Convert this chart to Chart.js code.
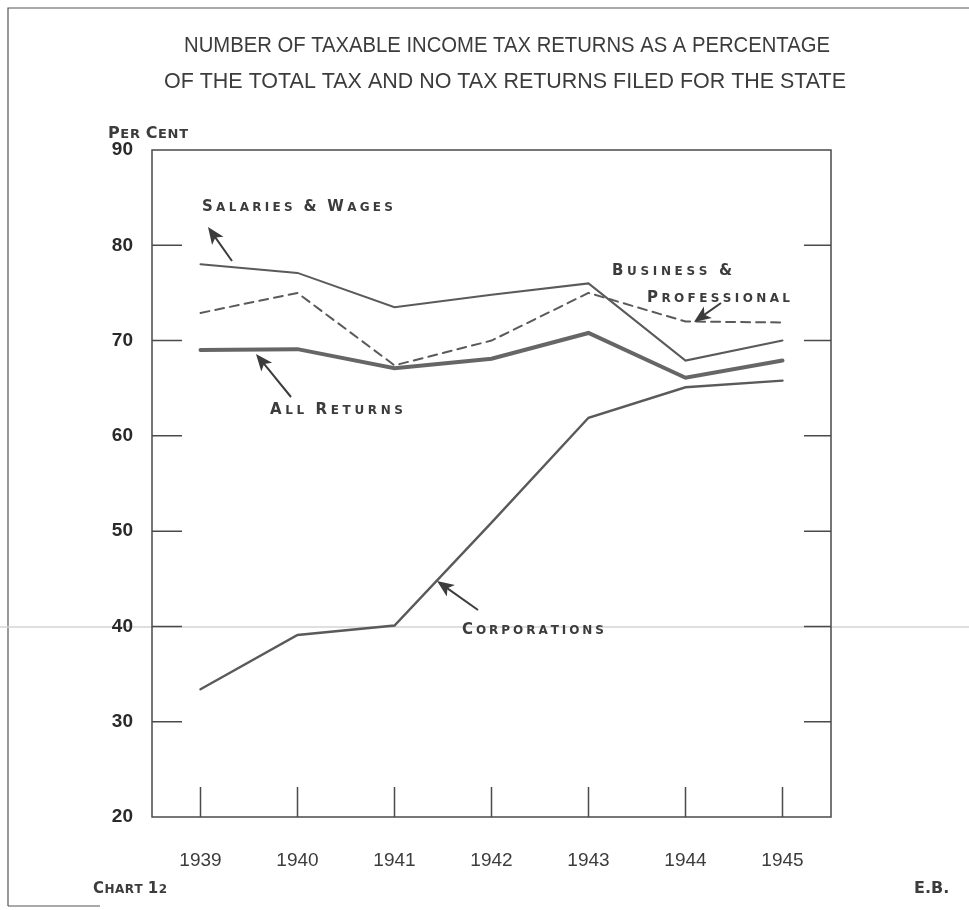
<!DOCTYPE html>
<html>
<head>
<meta charset="utf-8">
<script src="https://cdn.jsdelivr.net/npm/chart.js@4.4.1/dist/chart.umd.min.js"></script>
<style>
  html, body { margin: 0; padding: 0; background: #fff; }
  #wrap { width: 969px; height: 910px; position: relative; }
</style>
</head>
<body>
<div id="wrap"><canvas id="chart" width="969" height="910"></canvas></div>
<script>
// values (per cent)
const years = [1939, 1940, 1941, 1942, 1943, 1944, 1945];
const salariesWages = [78.0, 77.1, 73.5, 74.8, 76.0, 67.9, 70.0];
const businessProfessional = [72.9, 75.0, 67.4, 70.0, 75.0, 72.0, 71.9];
const allReturns = [69.0, 69.1, 67.1, 68.1, 70.8, 66.1, 67.9];
const corporations = [33.4, 39.1, 40.1, 50.9, 61.9, 65.1, 65.8];
const yTicks = [20, 30, 40, 50, 60, 70, 80, 90];

const titleLines = [
  'NUMBER OF TAXABLE INCOME TAX RETURNS AS A PERCENTAGE',
  'OF THE TOTAL TAX AND NO TAX RETURNS FILED FOR THE STATE'
];

const INK = '#3c3c3c';
const LINE = '#5a5a5a';

const toXY = arr => years.map((x, i) => ({ x, y: arr[i] }));

// spaced "small caps" lettering: first letter of each word larger
function drawCaps(ctx, text, x, y, width, big, small) {
  const chars = text.split('');
  const fonts = chars.map((c, i) => {
    const first = i === 0 || chars[i - 1] === ' ';
    return 'bold ' + (first ? big : small) + 'px "DejaVu Sans"';
  });
  let natural = 0;
  const widths = chars.map((c, i) => {
    ctx.font = fonts[i];
    const w = ctx.measureText(c).width;
    natural += w;
    return w;
  });
  const gap = (width - natural) / (chars.length - 1);
  let cx = x;
  ctx.textBaseline = 'alphabetic';
  ctx.textAlign = 'left';
  chars.forEach((c, i) => {
    ctx.font = fonts[i];
    ctx.fillText(c, cx, y);
    cx += widths[i] + gap;
  });
}

function arrow(ctx, tx, ty, hx, hy) {
  const ang = Math.atan2(hy - ty, hx - tx);
  const len = 17, half = 7;
  ctx.beginPath();
  ctx.moveTo(tx, ty);
  ctx.lineTo(hx - Math.cos(ang) * len * 0.6, hy - Math.sin(ang) * len * 0.6);
  ctx.stroke();
  ctx.beginPath();
  ctx.moveTo(hx, hy);
  ctx.lineTo(hx - Math.cos(ang) * len + Math.sin(ang) * half, hy - Math.sin(ang) * len - Math.cos(ang) * half);
  ctx.lineTo(hx - Math.cos(ang) * len * 0.75, hy - Math.sin(ang) * len * 0.75);
  ctx.lineTo(hx - Math.cos(ang) * len - Math.sin(ang) * half, hy - Math.sin(ang) * len + Math.cos(ang) * half);
  ctx.closePath();
  ctx.fill();
}

const decor = {
  id: 'decor',
  beforeDraw(chart) {
    const ctx = chart.ctx;
    ctx.save();
    // page frame and scan line
    ctx.strokeStyle = '#555';
    ctx.lineWidth = 1.2;
    ctx.beginPath();
    ctx.moveTo(8, 906); ctx.lineTo(8, 8); ctx.lineTo(969, 8);
    ctx.moveTo(8, 906); ctx.lineTo(100, 906);
    ctx.stroke();
    ctx.strokeStyle = '#d4d4d4';
    ctx.lineWidth = 1.5;
    ctx.beginPath();
    ctx.moveTo(0, 627); ctx.lineTo(969, 627);
    ctx.stroke();

    // title
    ctx.fillStyle = INK;
    ctx.textAlign = 'center';
    ctx.textBaseline = 'middle';
    ctx.font = '22px "Liberation Sans"';
    ctx.fillText(titleLines[0], 507, 46, 646);
    ctx.fillText(titleLines[1], 505, 82, 682);

    drawCaps(ctx, 'PER CENT', 108, 138, 80, 16, 13);
    drawCaps(ctx, 'CHART 12', 93, 893, 74, 15, 12);
    ctx.font = 'bold 16px "DejaVu Sans"';
    ctx.textAlign = 'left';
    ctx.textBaseline = 'alphabetic';
    ctx.fillText('E.B.', 914, 893);
    ctx.restore();
  },
  afterDatasetsDraw(chart) {
    const ctx = chart.ctx;
    const a = chart.chartArea;
    const xs = chart.scales.x, ys = chart.scales.y;
    ctx.save();
    ctx.strokeStyle = '#4a4a4a';
    ctx.lineWidth = 1.5;
    ctx.strokeRect(a.left, a.top, a.right - a.left, a.bottom - a.top);
    ctx.beginPath();
    yTicks.forEach(v => {
      if (v === yTicks[0] || v === yTicks[yTicks.length - 1]) return;
      const py = ys.getPixelForValue(v);
      ctx.moveTo(a.left, py); ctx.lineTo(a.left + 30, py);
      ctx.moveTo(a.right - 27, py); ctx.lineTo(a.right, py);
    });
    years.forEach(v => {
      const px = xs.getPixelForValue(v);
      ctx.moveTo(px, a.bottom); ctx.lineTo(px, a.bottom - 30);
    });
    ctx.stroke();

    // line labels with arrows
    ctx.fillStyle = INK;
    drawCaps(ctx, 'SALARIES & WAGES', 202, 211, 191, 15, 12);
    drawCaps(ctx, 'BUSINESS &', 612, 275, 120, 15, 12);
    drawCaps(ctx, 'PROFESSIONAL', 647, 302, 143, 15, 12);
    drawCaps(ctx, 'ALL RETURNS', 270, 414, 133, 15, 12);
    drawCaps(ctx, 'CORPORATIONS', 462, 634, 142, 15, 12);

    ctx.strokeStyle = INK;
    ctx.lineWidth = 2;
    arrow(ctx, 232, 261, 208, 227);
    arrow(ctx, 721, 303, 694, 322);
    arrow(ctx, 291, 397, 256, 354);
    arrow(ctx, 478, 610, 437, 581);
    ctx.restore();
  }
};

new Chart(document.getElementById('chart'), {
  type: 'line',
  data: {
    datasets: [
      { label: 'Salaries & Wages', data: toXY(salariesWages), borderColor: LINE, borderWidth: 2 },
      { label: 'Business & Professional', data: toXY(businessProfessional), borderColor: LINE, borderWidth: 2, borderDash: [9, 6] },
      { label: 'All Returns', data: toXY(allReturns), borderColor: '#666', borderWidth: 4 },
      { label: 'Corporations', data: toXY(corporations), borderColor: LINE, borderWidth: 2.4 }
    ]
  },
  options: {
    responsive: false,
    animation: false,
    events: [],
    layout: { padding: { top: 150, right: 138, left: 0, bottom: 0 } },
    elements: { point: { radius: 0 }, line: { tension: 0, borderCapStyle: 'round', borderJoinStyle: 'miter' } },
    plugins: { legend: { display: false }, tooltip: { enabled: false }, title: { display: false } },
    scales: {
      x: {
        type: 'linear',
        min: 1938.5,
        max: 1945.5,
        afterBuildTicks: scale => { scale.ticks = years.map(v => ({ value: v })); },
        afterFit: scale => { scale.height = 93; },
        grid: { display: false },
        border: { display: false },
        ticks: {
          color: INK,
          padding: 24,
          maxRotation: 0,
          font: { family: 'Liberation Sans', size: 19 },
          callback: v => String(v)
        }
      },
      y: {
        min: 20,
        max: 90,
        afterBuildTicks: scale => { scale.ticks = yTicks.map(v => ({ value: v })); },
        afterFit: scale => { scale.width = 152; },
        grid: { display: false },
        border: { display: false },
        ticks: {
          color: '#2a2a2a',
          padding: 11,
          font: { family: 'Liberation Sans', size: 19, weight: 'bold' }
        }
      }
    }
  },
  plugins: [decor]
});
</script>
</body>
</html>
